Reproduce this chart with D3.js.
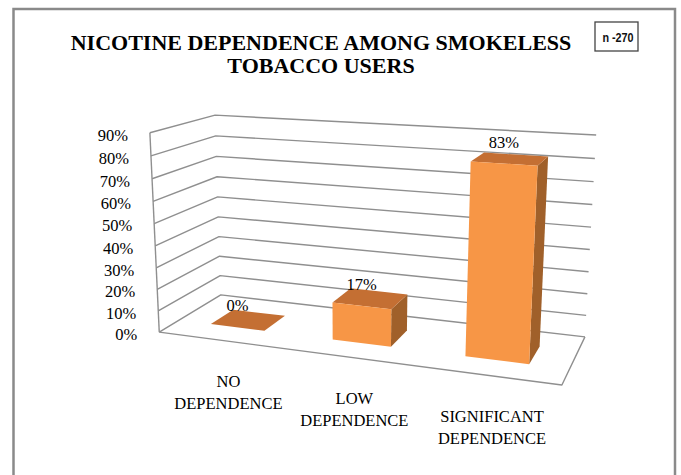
<!DOCTYPE html>
<html>
<head>
<meta charset="utf-8">
<script src="https://cdn.jsdelivr.net/npm/d3@7"></script>
<style>
  html, body { margin: 0; padding: 0; background: #ffffff; }
  svg { display: block; }
</style>
</head>
<body>
<script>
// ---- data ----
const categories = [["NO", "DEPENDENCE"], ["LOW", "DEPENDENCE"], ["SIGNIFICANT", "DEPENDENCE"]];
const values = [0, 0.17, 0.83];
const valueLabels = ["0%", "17%", "83%"];
const yTicks = [0, 0.1, 0.2, 0.3, 0.4, 0.5, 0.6, 0.7, 0.8, 0.9];
const tickLabels = ["0%", "10%", "20%", "30%", "40%", "50%", "60%", "70%", "80%", "90%"];
const titleLines = ["NICOTINE DEPENDENCE AMONG SMOKELESS", "TOBACCO USERS"];
const noteText = "n -270";

const W = 681, H = 475;
const svg = d3.select("body").append("svg").attr("width", W).attr("height", H);

// ---- 3D camera: fitted to the frame corners (world X: category axis 0..1,
// Y: height 0..1, Z: depth 0 = front, 1 = back wall) ----
const frame = [
  [0, 0, 0, 160, 332],
  [1, 0, 0, 562, 385],
  [0, 0, 1, 220, 295],
  [1, 0, 1, 585, 337],
  [0, 1, 1, 216, 115],
  [1, 1, 1, 596, 135],
  [0, 1, 0, 149, 133]
];

function solveLinear(A, b) {
  const n = b.length;
  const M = A.map((r, i) => r.concat([b[i]]));
  for (let c = 0; c < n; c++) {
    let piv = c;
    for (let r = c + 1; r < n; r++) if (Math.abs(M[r][c]) > Math.abs(M[piv][c])) piv = r;
    [M[c], M[piv]] = [M[piv], M[c]];
    for (let r = 0; r < n; r++) {
      if (r === c) continue;
      const f = M[r][c] / M[c][c];
      for (let k = c; k <= n; k++) M[r][k] -= f * M[c][k];
    }
  }
  return M.map((r, i) => r[n] / r[i]);
}

function fitCamera(pts) {
  const rows = [], rhs = [];
  pts.forEach(([X, Y, Z, u, v]) => {
    rows.push([X, Y, Z, 1, 0, 0, 0, 0, -u * X, -u * Y, -u * Z]); rhs.push(u);
    rows.push([0, 0, 0, 0, X, Y, Z, 1, -v * X, -v * Y, -v * Z]); rhs.push(v);
  });
  const n = 11;
  const AtA = d3.range(n).map(i => d3.range(n).map(j => d3.sum(rows, r => r[i] * r[j])));
  const Atb = d3.range(n).map(i => d3.sum(rows, (r, k) => r[i] * rhs[k]));
  return solveLinear(AtA, Atb);
}
const P = fitCamera(frame);
function project(X, Y, Z) {
  const w = P[8] * X + P[9] * Y + P[10] * Z + 1;
  return [(P[0] * X + P[1] * Y + P[2] * Z + P[3]) / w,
          (P[4] * X + P[5] * Y + P[6] * Z + P[7]) / w];
}

// ---- scales ----
const x = d3.scaleBand().domain(d3.range(categories.length)).range([0, 1])
  .paddingInner(0.55).paddingOuter(0.275);
const y = d3.scaleLinear().domain([0, 0.9]).range([0, 1]);
const depth = { front: 0.3, back: 0.68 };

const line = d3.line();
const poly = pts => line(pts) + "Z";
const serif = "'Liberation Serif', 'Times New Roman', serif";

// ---- outer frame ----
svg.append("rect").attr("x", 13.5).attr("y", 9).attr("width", 661.5).attr("height", 480)
  .attr("fill", "none").attr("stroke", "#8a8a8a").attr("stroke-width", 2.5);

// ---- title ----
svg.append("text").attr("x", 321).attr("y", 50).attr("text-anchor", "middle")
  .attr("font-family", serif).attr("font-weight", "bold").attr("font-size", 22)
  .attr("fill", "#000")
  .selectAll("tspan").data(titleLines).join("tspan")
  .attr("x", 321).attr("dy", (d, i) => i === 0 ? 0 : 23).text(d => d);

// ---- sample-size note ----
const note = svg.append("g");
note.append("rect").attr("x", 595).attr("y", 22).attr("width", 43).attr("height", 29)
  .attr("fill", "#fff").attr("stroke", "#444").attr("stroke-width", 1.3);
note.append("text").attr("transform", "translate(618,42) scale(0.8,1)")
  .attr("text-anchor", "middle")
  .attr("font-family", "'Liberation Sans', Arial, sans-serif")
  .attr("font-size", 13.5).attr("font-weight", "bold").attr("fill", "#111").text(noteText);

// ---- walls: gridlines on side and back wall, floor outline ----
const grid = svg.append("g").attr("fill", "none").attr("stroke", "#8f8f8f")
  .attr("stroke-width", 1.4).attr("stroke-linejoin", "round");
yTicks.forEach(t => {
  const Y = y(t);
  grid.append("path").attr("d", line([project(0, Y, 0), project(0, Y, 1), project(1, Y, 1)]));
});
grid.append("path").attr("d", line([project(0, 0, 0), project(1, 0, 0), project(1, 0, 1)]));
grid.append("path").attr("d", line([project(0, 0, 0), project(0, y(0.9), 0)]));

// ---- value axis labels ----
svg.append("g").selectAll("text").data(yTicks).join("text")
  .attr("x", d => project(0, y(d), 0)[0] - 22)
  .attr("y", d => project(0, y(d), 0)[1] + 2)
  .attr("dy", "0.35em").attr("text-anchor", "end")
  .attr("font-family", serif).attr("font-size", 16.5).attr("fill", "#000")
  .text((d, i) => tickLabels[i]);

// ---- bars ----
const colors = { front: "#F79646", top: "#C46F33", side: "#A0602A" };
const bars = svg.append("g");
values.forEach((v, i) => {
  const x0 = x(i), x1 = x(i) + x.bandwidth(), Y = y(v);
  const z0 = depth.front, z1 = depth.back;
  const g = bars.append("g");
  g.append("path").attr("fill", colors.side).attr("d", poly([
    project(x1, 0, z0), project(x1, 0, z1), project(x1, Y, z1), project(x1, Y, z0)]));
  g.append("path").attr("fill", colors.top).attr("d", poly([
    project(x0, Y, z0), project(x1, Y, z0), project(x1, Y, z1), project(x0, Y, z1)]));
  g.append("path").attr("fill", colors.front).attr("d", poly([
    project(x0, 0, z0), project(x1, 0, z0), project(x1, Y, z0), project(x0, Y, z0)]));
});

// ---- value labels ----
svg.append("g").selectAll("text").data(values).join("text")
  .attr("x", (d, i) => project(x(i) + x.bandwidth() / 2, y(d), depth.front)[0])
  .attr("y", (d, i) => project(x(i) + x.bandwidth() / 2, y(d), depth.front)[1] - 16)
  .attr("text-anchor", "middle").attr("font-family", serif).attr("font-size", 16.5)
  .attr("fill", "#000").text((d, i) => valueLabels[i]);

// ---- category labels ----
svg.append("g").selectAll("text").data(categories).join("text")
  .attr("x", (d, i) => project(x(i) + x.bandwidth() / 2, 0, 0.15)[0])
  .attr("y", (d, i) => project(x(i) + x.bandwidth() / 2, 0, 0)[1] + 47)
  .attr("text-anchor", "middle").attr("font-family", serif).attr("font-size", 16.5)
  .attr("fill", "#000")
  .each(function (d, i) {
    const t = d3.select(this), cx = t.attr("x");
    t.selectAll("tspan").data(d).join("tspan")
      .attr("x", cx).attr("dy", (s, k) => k === 0 ? 0 : 22).text(s => s);
  });
</script>
</body>
</html>
